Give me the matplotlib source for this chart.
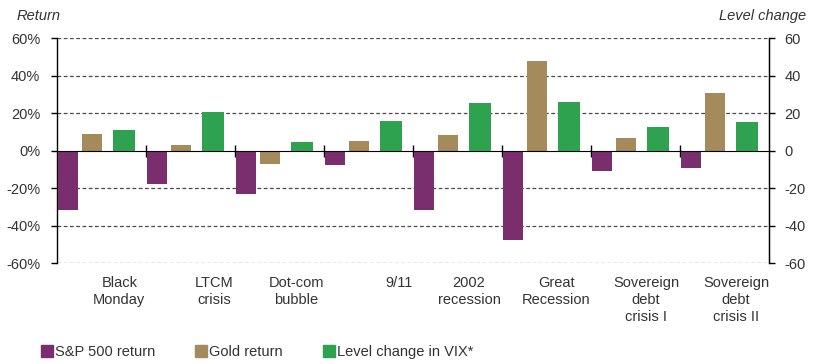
import matplotlib
matplotlib.use("Agg")
import matplotlib.pyplot as plt
from matplotlib.patches import Patch
from matplotlib.transforms import blended_transform_factory
import numpy as np

plt.rcParams['font.family'] = ['Liberation Sans', 'DejaVu Sans']

categories = ["Black\nMonday", "LTCM\ncrisis", "Dot-com\nbubble", "9/11",
              "2002\nrecession", "Great\nRecession", "Sovereign\ndebt\ncrisis I",
              "Sovereign\ndebt\ncrisis II"]
sp500 = [-31.5, -17.6, -22.9, -7.6, -31.5, -47.8, -11.0, -9.1]
gold = [8.9, 3.2, -6.9, 5.3, 8.2, 47.8, 6.9, 30.6]
vix = [11.2, 20.8, 4.6, 16.0, 25.4, 26.1, 12.6, 15.5]
left_ticks = [-60, -40, -20, 0, 20, 40, 60]
left_ticklabels = ["-60%", "-40%", "-20%", "0%", "20%", "40%", "60%"]
right_ticklabels = ["-60", "-40", "-20", "0", "20", "40", "60"]

# layout (not data)
label_offsets = [0.70, 0.77, 0.69, 0.84, 0.63, 0.61, 0.62, 0.63]

c_sp = '#7a2e6e'
c_gold = '#a58b5b'
c_vix = '#2ea24f'
txt = '#333333'
fs = 10.5

fig = plt.figure(figsize=(8.16, 3.64), dpi=100)
ax = fig.add_axes([57/816, 1-263.3/364, (769-57)/816, (263.3-38.3)/364])
ax2 = ax.twinx()

x = np.arange(len(categories))
ax.bar(x + 0.123, sp500, width=0.225, color=c_sp, zorder=3)
ax.bar(x + 0.393, gold, width=0.225, color=c_gold, zorder=3)
ax2.bar(x + 0.753, vix, width=0.247, color=c_vix, zorder=3)

for a in (ax, ax2):
    a.set_ylim(-60, 60)
    a.set_xlim(0, len(categories))
ax.set_yticks(left_ticks)
ax.set_yticklabels(left_ticklabels)
ax2.set_yticks(left_ticks)
ax2.set_yticklabels(right_ticklabels)

for t in left_ticks:
    if t != 0:
        ax.axhline(t, color='#4a4a4a', lw=0.9, ls=(0, (3, 2)), zorder=1)

ax.spines['top'].set_visible(False)
ax2.spines['top'].set_visible(False)
ax.spines['bottom'].set_position(('data', 0))
ax2.spines['bottom'].set_visible(False)
ax.spines['bottom'].set_zorder(5)
ax.spines['left'].set_linewidth(1.0)
ax2.spines['right'].set_linewidth(1.0)
ax2.spines['left'].set_visible(False)

ax.set_xticks(np.arange(1, len(categories)))
ax.tick_params(axis='x', direction='inout', length=9, width=1.0, labelbottom=False)
ax.tick_params(axis='y', direction='out', length=4, width=1.0, labelsize=fs, labelcolor=txt, pad=8)
ax2.tick_params(axis='y', direction='out', length=4, width=1.0, labelsize=fs, labelcolor=txt, pad=7)

trans = blended_transform_factory(ax.transData, ax.transAxes)
y_lab = (263.3 - 276) / (263.3 - 38.3)
for i, (lab, off) in enumerate(zip(categories, label_offsets)):
    ax.text(i + off, y_lab, lab, transform=trans, ha='center', va='top',
            fontsize=fs, color=txt, linespacing=1.28)

fig.text(17/816, 1-16/364, "Return", style='italic', fontsize=fs, color=txt,
         ha='left', va='center')
fig.text(806/816, 1-16/364, "Level change", style='italic', fontsize=fs, color=txt,
         ha='right', va='center')

handles = [Patch(color=c_sp), Patch(color=c_gold), Patch(color=c_vix)]
labels = ["S&P 500 return", "Gold return", "Level change in VIX*"]
fig.legend(handles, labels, loc='center left', bbox_to_anchor=(28/816, 1-352/364),
           ncol=3, frameon=False, fontsize=fs, handlelength=0.8, handleheight=0.8,
           handletextpad=0.15, columnspacing=2.75, labelcolor=txt)

fig.savefig("out.png", dpi=100)
